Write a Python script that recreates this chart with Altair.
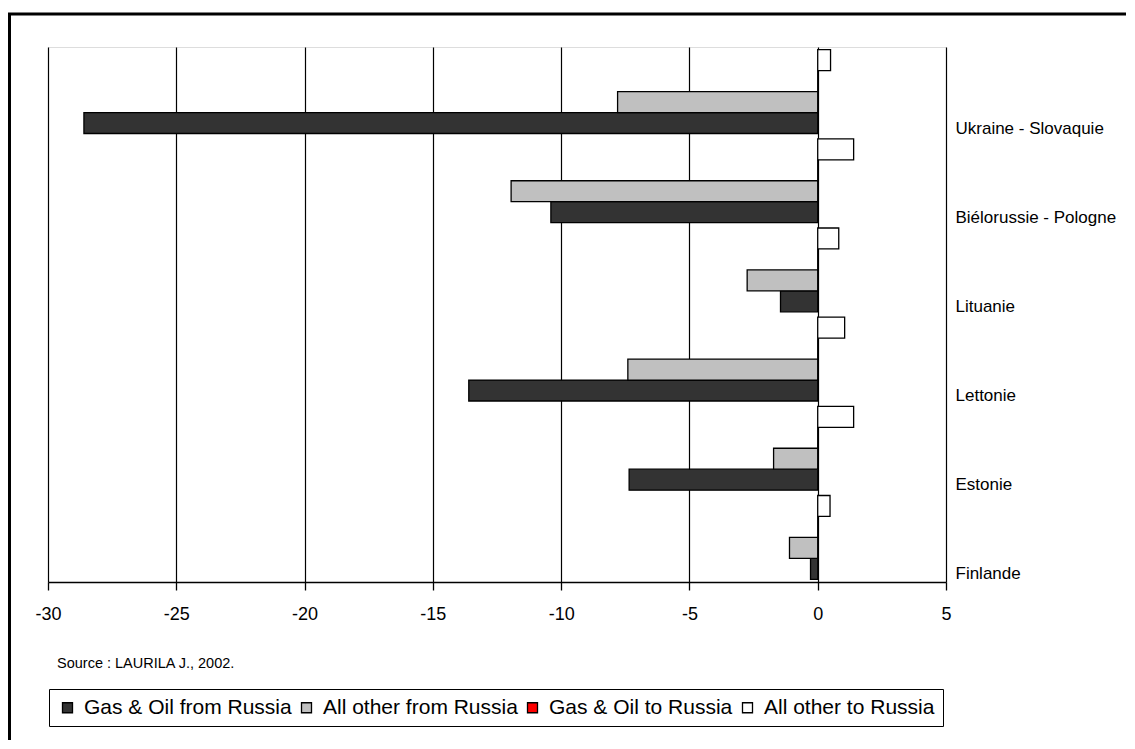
import altair as alt
import pandas as pd

# ---- data ----
categories = ["Ukraine - Slovaquie", "Biélorussie - Pologne", "Lituanie",
              "Lettonie", "Estonie", "Finlande"]
series = ["Gas & Oil from Russia", "All other from Russia",
          "Gas & Oil to Russia", "All other to Russia"]
gas_oil_from = [-28.6, -10.4, -1.45, -13.6, -7.35, -0.28]
other_from = [-7.8, -11.95, -2.75, -7.4, -1.72, -1.1]
gas_oil_to = [0, 0, 0, 0, 0, 0]
other_to = [0.5, 1.4, 0.82, 1.05, 1.4, 0.48]
colors = ["#333333", "#c0c0c0", "#ff0000", "#ffffff"]
x_ticks = [-30, -25, -20, -15, -10, -5, 0, 5]
source_text = "Source : LAURILA J., 2002."

FONT = "Liberation Sans"

rows = []
for s, vals in zip(series, [gas_oil_from, other_from, gas_oil_to, other_to]):
    for c, v in zip(categories, vals):
        rows.append({"pays": c, "serie": s, "valeur": v})
df = pd.DataFrame(rows)

bars = alt.Chart(df).mark_bar(stroke="black", strokeWidth=1.3).encode(
    x=alt.X("valeur:Q",
            scale=alt.Scale(domain=[-30, 5], nice=False, zero=False),
            axis=alt.Axis(values=x_ticks, title=None, orient="bottom",
                          labelExpr="'' + datum.value",
                          grid=True, gridColor="black", gridWidth=1.2, gridOpacity=1,
                          domain=True, domainColor="black", domainWidth=1.5,
                          ticks=True, tickColor="black", tickSize=8, tickWidth=1.3,
                          labelFont=FONT, labelFontSize=18, labelColor="black",
                          labelPadding=15, labelFlush=False)),
    y=alt.Y("pays:N", sort=categories,
            scale=alt.Scale(paddingInner=0.06, paddingOuter=0.03),
            axis=alt.Axis(orient="right", title=None, domain=False, ticks=False,
                          grid=False, labelFont=FONT, labelFontSize=17,
                          labelColor="black", labelPadding=9, labelOffset=37,
                          labelLimit=300, labelAlign="left")),
    yOffset=alt.YOffset("serie:N",
                        sort=[series[3], series[2], series[1], series[0]],
                        scale=alt.Scale(paddingInner=0, paddingOuter=0)),
    color=alt.Color("serie:N",
                    scale=alt.Scale(domain=series, range=colors),
                    legend=alt.Legend(orient="none", legendX=1, legendY=642,
                                      direction="horizontal", title=None,
                                      labelFont=FONT, labelFontSize=21,
                                      labelColor="black", labelLimit=400,
                                      symbolType="square", symbolSize=100,
                                      symbolStrokeColor="black",
                                      symbolStrokeWidth=1.3, symbolOpacity=1,
                                      labelOffset=6, columnPadding=4,
                                      padding=8, strokeColor="black")),
)

source = alt.Chart(pd.DataFrame({"t": [source_text]})).mark_text(
    align="left", baseline="middle", font=FONT, fontSize=14.5, color="black"
).encode(text="t:N", x=alt.value(9), y=alt.value(617))

one = pd.DataFrame({"k": [0]})
frame_left = alt.Chart(one).mark_rule(color="black", strokeWidth=3).encode(
    x=alt.value(-38.5), y=alt.value(-33), y2=alt.value(720))
frame_top = alt.Chart(one).mark_rule(color="black", strokeWidth=3).encode(
    x=alt.value(-40), x2=alt.value(1150), y=alt.value(-33))

chart = alt.layer(bars, source, frame_left, frame_top).properties(
    width=898, height=535,
    autosize=alt.AutoSizeParams(type="none"),
    padding={"left": 40, "top": 39, "right": 180, "bottom": 158},
    background="white",
).configure_view(stroke="black", strokeWidth=1.5).configure(font=FONT)

chart.save("out.html", embed_options={"renderer": "svg", "actions": False})
